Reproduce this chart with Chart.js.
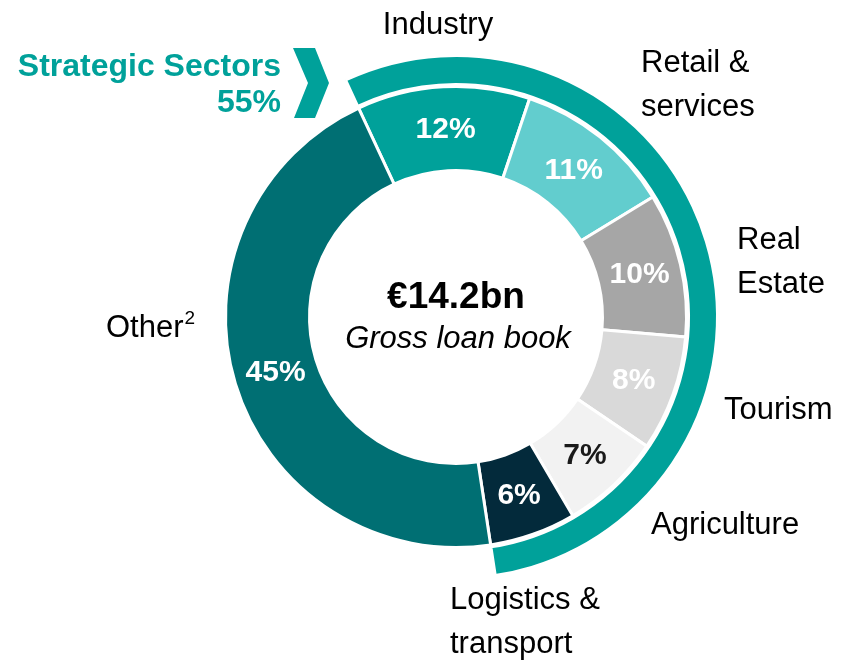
<!DOCTYPE html>
<html>
<head>
<meta charset="utf-8">
<script src="https://cdn.jsdelivr.net/npm/chart.js@4.4.0/dist/chart.umd.min.js"></script>
<style>
  body { margin: 0; background: #fff; }
  canvas { display: block; }
</style>
</head>
<body>
<canvas id="loanChart" width="843" height="662"></canvas>
<script>
const sectors = ["Industry", "Retail & services", "Real Estate", "Tourism", "Agriculture", "Logistics & transport", "Other"];
const shares = [12, 11, 10, 8, 7, 6, 45];
const strategicCount = 6; // the first six sectors are the strategic ones
const strategicTitle = "Strategic Sectors";
const strategicShare = "55%";
const totalText = "€14.2bn";
const totalCaption = "Gross loan book";

const FONT = 'Arial, "Liberation Sans", Helvetica, sans-serif';
const TEAL = "#00a19a";
const sectorColors = ["#00a19a", "#62cdce", "#a6a6a6", "#d9d9d9", "#f2f2f2", "#032a3b", "#006f73"];
const pctColors = ["#fff", "#fff", "#fff", "#fff", "#1a1a1a", "#fff", "#fff"];

// where the sector names sit round the ring
const labelLayout = [
  { lines: ["Industry"], x: 438, y: 25, align: "center" },
  { lines: ["Retail &", "services"], x: 641, y: 63, align: "left" },
  { lines: ["Real", "Estate"], x: 737, y: 240, align: "left" },
  { lines: ["Tourism"], x: 724, y: 410, align: "left" },
  { lines: ["Agriculture"], x: 651, y: 525, align: "left" },
  { lines: ["Logistics &", "transport"], x: 450, y: 600, align: "left" },
  { lines: ["Other"], x: 106, y: 328, align: "left", sup: "2" },
];

const strategicTotal = shares.slice(0, strategicCount).reduce((a, b) => a + b, 0);
const otherTotal = shares.slice(strategicCount).reduce((a, b) => a + b, 0);

const annotations = {
  id: "annotations",
  afterDatasetsDraw(chart) {
    const ctx = chart.ctx;
    const meta = chart.getDatasetMeta(2);
    ctx.save();
    ctx.textAlign = "center";
    ctx.textBaseline = "middle";

    // percentages inside the segments
    ctx.font = "bold 30px " + FONT;
    meta.data.forEach((arc, i) => {
      const p = arc.tooltipPosition();
      ctx.fillStyle = pctColors[i];
      ctx.fillText(shares[i] + "%", p.x, p.y + 1);
    });

    // centre text
    const cx = meta.data[0].x, cy = meta.data[0].y;
    ctx.fillStyle = "#000";
    ctx.font = "bold 37px " + FONT;
    ctx.fillText(totalText, cx, cy - 19);
    ctx.font = "italic 31px " + FONT;
    ctx.fillText(totalCaption, cx + 2, cy + 22);

    // sector names
    ctx.font = "31px " + FONT;
    labelLayout.forEach(l => {
      ctx.textAlign = l.align;
      l.lines.forEach((t, j) => ctx.fillText(t, l.x, l.y + j * 44));
      if (l.sup) {
        const w = ctx.measureText(l.lines[0]).width;
        ctx.font = "19px " + FONT;
        ctx.textAlign = "left";
        ctx.fillText(l.sup, l.x + w + 1, l.y - 9);
        ctx.font = "31px " + FONT;
      }
    });

    // strategic sectors heading + chevron
    ctx.fillStyle = TEAL;
    ctx.textAlign = "right";
    ctx.font = "bold 32px " + FONT;
    ctx.fillText(strategicTitle, 281, 67);
    ctx.fillText(strategicShare, 281, 103);
    ctx.beginPath();
    ctx.moveTo(293, 48);
    ctx.lineTo(315, 48);
    ctx.lineTo(329, 83);
    ctx.lineTo(315, 118);
    ctx.lineTo(294, 118);
    ctx.lineTo(308, 83);
    ctx.closePath();
    ctx.fill();
    ctx.restore();
  }
};

const ctx = document.getElementById("loanChart");
const loanChart = new Chart(ctx, {
  type: "doughnut",
  data: {
    labels: sectors,
    datasets: [
      {
        // outer bracket round the strategic sectors
        data: [strategicTotal, otherTotal],
        backgroundColor: [TEAL, "rgba(0,0,0,0)"],
        borderColor: ["#fff", "rgba(0,0,0,0)"],
        borderWidth: 3,
        weight: 29,
      },
      {
        data: [1],
        backgroundColor: ["rgba(0,0,0,0)"],
        borderColor: ["rgba(0,0,0,0)"],
        borderWidth: 3,
        weight: 2,
      },
      {
        data: shares,
        backgroundColor: sectorColors,
        borderColor: "#fff",
        borderWidth: 3,
        weight: 84,
      },
    ],
  },
  options: {
    responsive: false,
    animation: false,
    events: [],
    rotation: -25,
    cutout: 146.5,
    layout: {
      padding: { left: 193, right: 124, top: 54, bottom: 82 },
    },
    plugins: {
      legend: false,
      tooltip: { enabled: false },
    },
  },
  plugins: [annotations],
});
</script>
</body>
</html>
